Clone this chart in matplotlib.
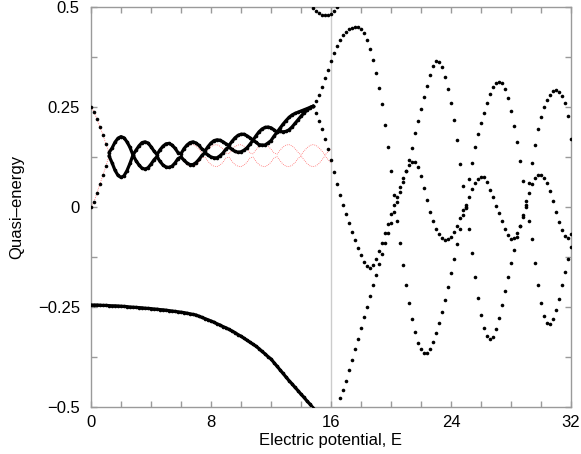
import numpy as np
import matplotlib
matplotlib.use("Agg")
import matplotlib.pyplot as plt

plt.rcParams['font.family'] = ['Liberation Sans', 'DejaVu Sans']

## DATA (quasi-energies, field step 0.2)

# left part, E = 0 ... 14.8
e_left = np.linspace(0, 14.8, 75)
lower = [-0.245, -0.245, -0.245, -0.2455, -0.246, -0.246, -0.2465, -0.247, -0.247, -0.2475,
         -0.248, -0.2485, -0.249, -0.25, -0.2505, -0.251, -0.2515, -0.252, -0.253, -0.2535,
         -0.254, -0.255, -0.2555, -0.2565, -0.257, -0.258, -0.259, -0.26, -0.261, -0.262,
         -0.263, -0.264, -0.2655, -0.267, -0.2685, -0.27, -0.273, -0.276, -0.279, -0.282,
         -0.285, -0.288, -0.292, -0.295, -0.299, -0.302, -0.306, -0.31, -0.314, -0.319,
         -0.323, -0.328, -0.333, -0.338, -0.343, -0.348, -0.354, -0.361, -0.367, -0.374,
         -0.38, -0.389, -0.398, -0.407, -0.416, -0.425, -0.434, -0.442, -0.451, -0.459,
         -0.468, -0.476, -0.485, -0.493, -0.502]
pair_hi = [0.25, 0.238, 0.22, 0.2, 0.18, 0.157, 0.136, 0.147, 0.162, 0.172,
           0.176, 0.173, 0.163, 0.149, 0.13, 0.142, 0.153, 0.161, 0.163, 0.16,
           0.151, 0.14, 0.131, 0.143, 0.152, 0.158, 0.159, 0.155, 0.147, 0.136,
           0.133, 0.146, 0.155, 0.161, 0.163, 0.16, 0.154, 0.145, 0.14, 0.151,
           0.16, 0.166, 0.168, 0.167, 0.163, 0.158, 0.154, 0.164, 0.173, 0.179,
           0.182, 0.182, 0.178, 0.173, 0.167, 0.178, 0.188, 0.195, 0.199, 0.2,
           0.198, 0.193, 0.187, 0.197, 0.207, 0.216, 0.224, 0.23, 0.234, 0.237,
           0.24, 0.243, 0.246, 0.249, 0.252]
pair_lo = [0.0, 0.013, 0.035, 0.058, 0.08, 0.103, 0.128, 0.111, 0.092, 0.079,
           0.074, 0.078, 0.091, 0.109, 0.13, 0.116, 0.105, 0.097, 0.095, 0.098,
           0.107, 0.118, 0.126, 0.114, 0.105, 0.1, 0.099, 0.102, 0.11, 0.121,
           0.125, 0.117, 0.11, 0.106, 0.106, 0.111, 0.119, 0.129, 0.136, 0.13,
           0.125, 0.123, 0.123, 0.128, 0.135, 0.145, 0.15, 0.144, 0.139, 0.137,
           0.138, 0.142, 0.148, 0.157, 0.167, 0.162, 0.156, 0.155, 0.155, 0.16,
           0.166, 0.177, 0.187, 0.189, 0.188, 0.189, 0.193, 0.2, 0.209, 0.218,
           0.227, 0.235, 0.242, 0.248, 0.252]

# red approximation, E = 0 ... 16
e_red = np.linspace(0, 16, 81)
red_hi = pair_hi[:30] + [0.133, 0.143, 0.151, 0.155, 0.156, 0.152, 0.145, 0.135,
                         0.133, 0.143, 0.151, 0.155, 0.156, 0.152, 0.145, 0.135,
                         0.133, 0.143, 0.151, 0.155, 0.156, 0.152, 0.145, 0.135,
                         0.133, 0.143, 0.151, 0.155, 0.156, 0.152, 0.145, 0.135,
                         0.132, 0.142, 0.15, 0.155, 0.156, 0.153, 0.146, 0.137,
                         0.13, 0.14, 0.148, 0.154, 0.156, 0.154, 0.148, 0.14, 0.13,
                         0.138, 0.147]
red_lo = pair_lo[:30] + [0.125, 0.114, 0.106, 0.102, 0.101, 0.105, 0.112, 0.123,
                         0.125, 0.114, 0.106, 0.102, 0.101, 0.105, 0.112, 0.123,
                         0.125, 0.114, 0.106, 0.102, 0.101, 0.105, 0.112, 0.123,
                         0.125, 0.114, 0.106, 0.102, 0.101, 0.105, 0.112, 0.123,
                         0.126, 0.116, 0.107, 0.102, 0.101, 0.104, 0.111, 0.121,
                         0.128, 0.118, 0.109, 0.103, 0.101, 0.103, 0.109, 0.118, 0.128,
                         0.119, 0.11]

# wrapped piece at the top, E = 14.8 ... 16.4
e_arc = np.linspace(14.8, 16.4, 9)
arc = [0.498, 0.49, 0.485, 0.481, 0.48, 0.48, 0.483, 0.49, 0.499]

# right part, E = 14.8 ... 32
e_right = np.linspace(14.8, 32, 87)
upper = [0.252, 0.264, 0.281, 0.3, 0.322, 0.343, 0.364, 0.385, 0.403, 0.418,
         0.43, 0.438, 0.444, 0.448, 0.45, 0.449, 0.444, 0.434, 0.418, 0.396,
         0.368, 0.335, 0.298, 0.258, 0.205, 0.15, 0.09, 0.03, 0.012, 0.038,
         0.063, 0.09, 0.118, 0.148, 0.185, 0.215, 0.245, 0.275, 0.303, 0.33,
         0.352, 0.366, 0.362, 0.349, 0.325, 0.295, 0.26, 0.218, 0.168, 0.108,
         0.052, 0.0, 0.07, 0.11, 0.15, 0.182, 0.21, 0.236, 0.261, 0.283,
         0.299, 0.309, 0.313, 0.309, 0.295, 0.272, 0.24, 0.203, 0.162, 0.115,
         0.065, 0.015, 0.06, 0.11, 0.155, 0.195, 0.226, 0.25, 0.267, 0.28,
         0.289, 0.292, 0.288, 0.277, 0.259, 0.228, 0.17]
middle = [0.252, 0.236, 0.215, 0.194, 0.171, 0.146, 0.118, 0.088, 0.058, 0.03,
          0.005, -0.018, -0.04, -0.062, -0.083, -0.103, -0.121, -0.137, -0.148, -0.153,
          -0.146, -0.131, -0.111, -0.089, -0.066, -0.042, -0.018, 0.006, 0.025, 0.05,
          0.072, 0.09, 0.104, 0.112, 0.112, 0.1, 0.077, 0.047, 0.017, -0.012,
          -0.035, -0.054, -0.068, -0.077, -0.082, -0.081, -0.075, -0.063, -0.047, -0.028,
          -0.008, 0.004, 0.025, 0.045, 0.06, 0.07, 0.076, 0.074, 0.063, 0.043,
          0.025, 0.003, -0.016, -0.035, -0.054, -0.07, -0.08, -0.078, -0.066, -0.047,
          -0.024, 0.0, 0.035, 0.058, 0.072, 0.079, 0.08, 0.073, 0.061, 0.04,
          0.015, -0.012, -0.037, -0.058, -0.073, -0.078, -0.068]

# lowest branch, E = 16.6 ... 32
e_bottom = np.linspace(16.6, 32, 78)
bottom = [-0.478, -0.458, -0.434, -0.408, -0.382, -0.356, -0.33, -0.303, -0.276, -0.249,
          -0.222, -0.195, -0.169, -0.143, -0.117, -0.091, -0.065, -0.039, -0.013, -0.035,
          -0.09, -0.145, -0.195, -0.24, -0.28, -0.313, -0.339, -0.356, -0.365, -0.365,
          -0.356, -0.338, -0.315, -0.289, -0.262, -0.232, -0.2, -0.166, -0.13, -0.092,
          -0.055, -0.02, -0.003, -0.055, -0.115, -0.175, -0.228, -0.27, -0.302, -0.322,
          -0.331, -0.326, -0.306, -0.278, -0.245, -0.21, -0.176, -0.14, -0.107, -0.076,
          -0.047, -0.02, 0.005, -0.035, -0.08, -0.14, -0.195, -0.24, -0.272, -0.29,
          -0.293, -0.281, -0.258, -0.229, -0.196, -0.163, -0.131, -0.1]

x_ticks = [0, 8, 16, 24, 32]
y_ticks = [-0.5, -0.25, 0, 0.25, 0.5]
y_labels = ['\u22120.5', '\u22120.25', '0', '0.25', '0.5']


fig = plt.figure(figsize=(5.81, 4.54), dpi=100)
ax = fig.add_axes([0.1566, 0.1035, 0.8262, 0.881])

ax.axvline(16, color='#cccccc', lw=1, zorder=1)

red = dict(color='#ff6a6a', lw=0.6, linestyle=(0, (1, 1.4)), zorder=2)
ax.plot(e_red, red_hi, **red)
ax.plot(e_red, red_lo, **red)

# densely sampled, slowly varying parts look like solid lines
solid = dict(color='black', lw=2.3, solid_capstyle='round', zorder=3)
ax.plot(e_left, lower, **solid)
ax.plot(e_left[6:], pair_hi[6:], **solid)
ax.plot(e_left[6:], pair_lo[6:], **solid)

dots = dict(linestyle='none', marker='o', ms=2.6, mec='none', mfc='black', zorder=3)
for xs, ys in [(e_left, lower), (e_left, pair_hi), (e_left, pair_lo),
               (e_arc, arc), (e_right, upper), (e_right, middle),
               (e_bottom, bottom)]:
    ax.plot(xs, ys, **dots)

ax.set_xlim(0, 32)
ax.set_ylim(-0.5, 0.5)
ax.set_xticks(x_ticks)
ax.set_xticklabels([str(t) for t in x_ticks])
ax.set_xticks(np.arange(0, 33, 2), minor=True)
ax.set_yticks(y_ticks)
ax.set_yticklabels(y_labels)
ax.set_yticks(np.arange(-0.5, 0.51, 0.125), minor=True)

gray = '#9a9a9a'
for s in ax.spines.values():
    s.set_color(gray)
    s.set_linewidth(1)
ax.tick_params(which='both', direction='in', top=True, right=True,
               length=4, width=1, color=gray, labelsize=12)
ax.tick_params(axis='x', pad=6)
ax.tick_params(axis='y', pad=8)

ax.set_xlabel('Electric potential, E', fontsize=12, labelpad=2)
ax.set_ylabel('Quasi\u2013energy', fontsize=12, labelpad=10)

fig.savefig('out.png', dpi=100)
